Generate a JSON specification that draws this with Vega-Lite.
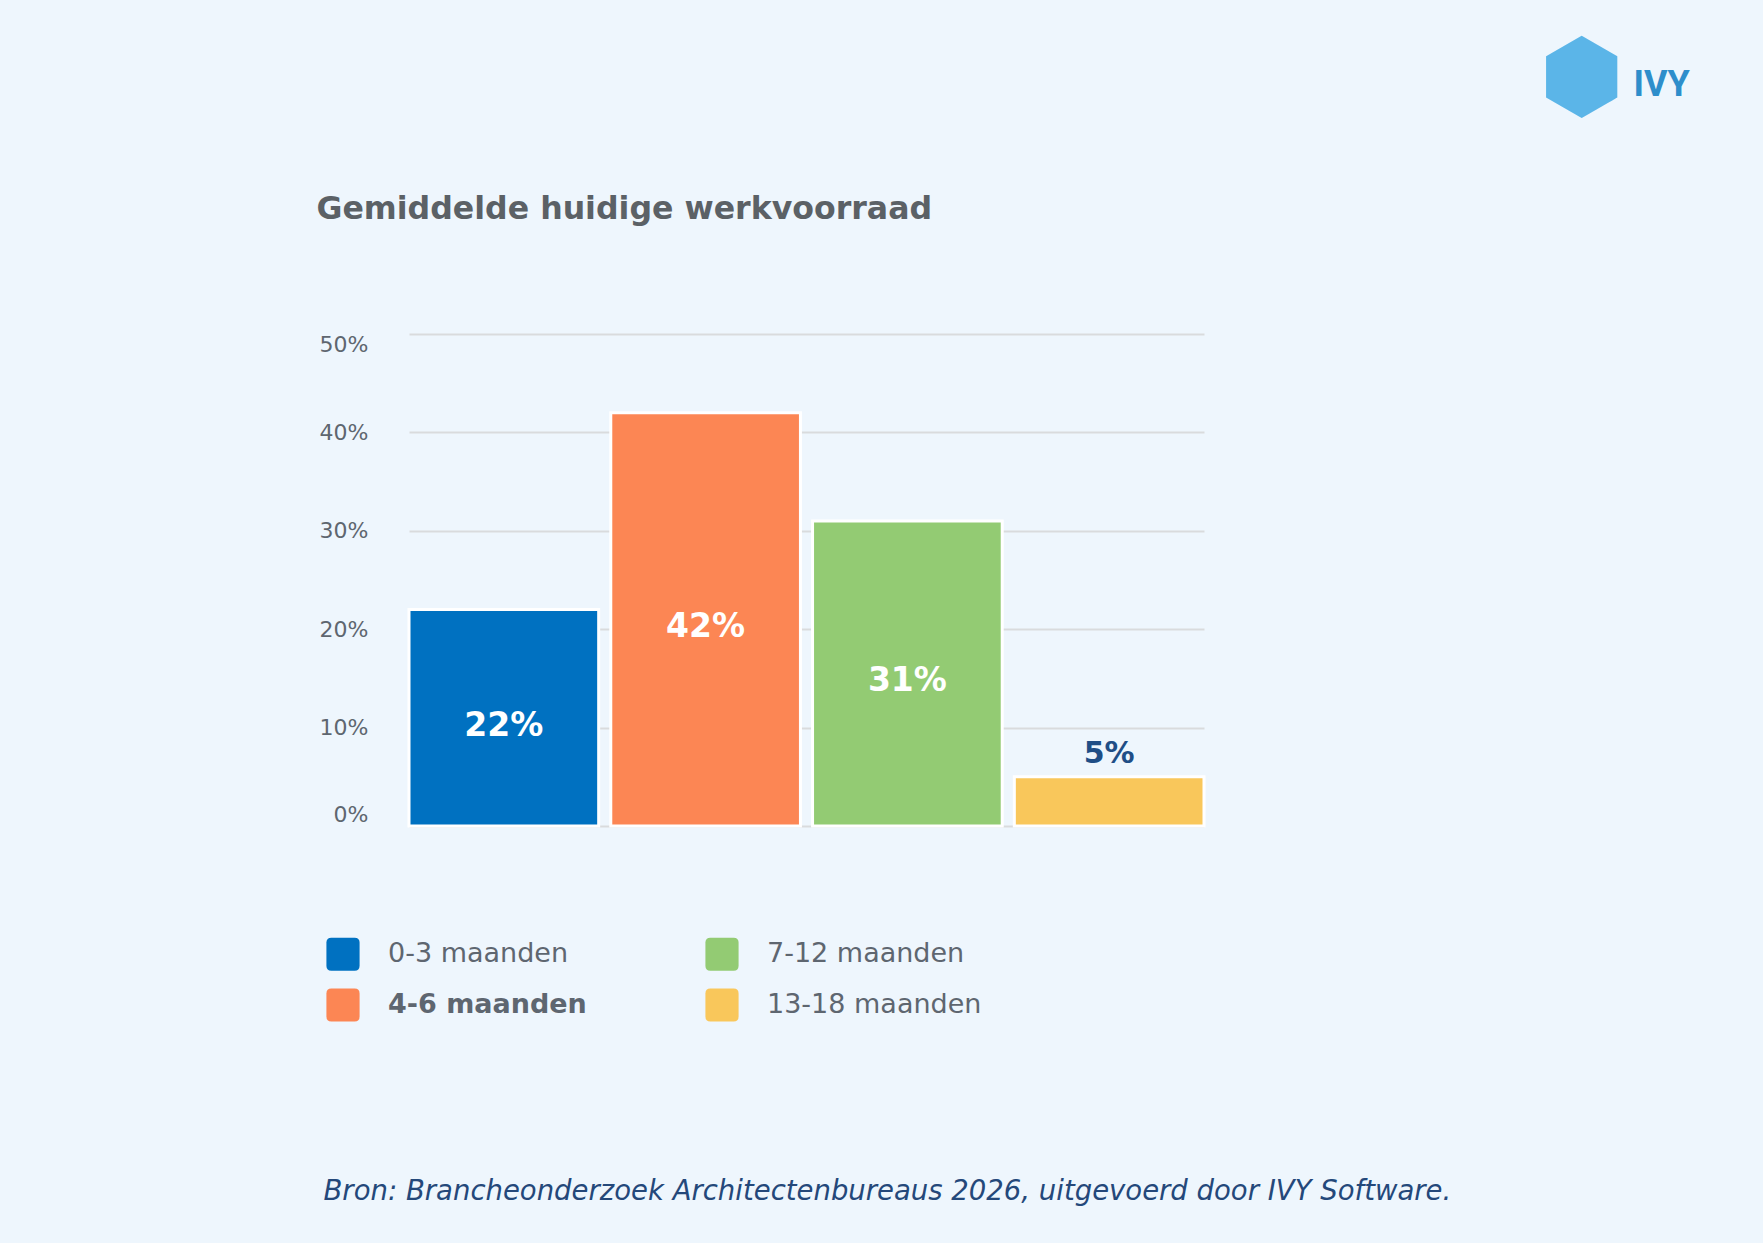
{
  "$schema": "https://vega.github.io/schema/vega-lite/v6.json",
  "description": "Gemiddelde huidige werkvoorraad van architectenbureaus",
  "width": 795,
  "height": 492,
  "autosize": {"type": "none"},
  "padding": {"left": 409, "top": 334, "right": 559, "bottom": 417},
  "background": "#EEF6FD",
  "title": {
    "text": "⬢",
    "anchor": "start",
    "frame": "group",
    "dx": 1130,
    "offset": -64,
    "color": "#5BB5E8",
    "fontSize": 98,
    "font": "DejaVu Sans",
    "fontWeight": "normal"
  },
  "data": {
    "values": [
      {"periode": "0-3 maanden", "aandeel": 0.22},
      {"periode": "4-6 maanden", "aandeel": 0.42},
      {"periode": "7-12 maanden", "aandeel": 0.31},
      {"periode": "13-18 maanden", "aandeel": 0.05}
    ]
  },
  "transform": [{"calculate": "datum.aandeel / 2", "as": "midden"}],
  "encoding": {
    "x": {
      "field": "periode",
      "type": "nominal",
      "sort": ["0-3 maanden", "4-6 maanden", "7-12 maanden", "13-18 maanden"],
      "scale": {"paddingInner": 0.06, "paddingOuter": 0},
      "axis": {
        "labels": false,
        "ticks": false,
        "domain": false,
        "title": "Bron: Brancheonderzoek Architectenbureaus 2026, uitgevoerd door IVY Software.",
        "titleX": -86,
        "titleY": 373,
        "titleAlign": "left",
        "titleBaseline": "alphabetic",
        "titleFont": "DejaVu Sans",
        "titleFontSize": 27.5,
        "titleFontStyle": "italic",
        "titleFontWeight": "normal",
        "titleColor": "#24487A"
      }
    }
  },
  "layer": [
    {
      "layer": [
        {
          "mark": {"type": "bar", "stroke": "white", "strokeWidth": 3},
          "encoding": {
            "y": {
              "field": "aandeel",
              "type": "quantitative",
              "title": "Gemiddelde huidige werkvoorraad",
              "scale": {"domain": [0, 0.5]},
              "axis": {
                "values": [0, 0.1, 0.2, 0.3, 0.4, 0.5],
                "format": ".0%",
                "labelFont": "DejaVu Sans",
                "labelFontSize": 22,
                "labelColor": "#5E6670",
                "labelPadding": 41,
                "labelFlush": true,
                "ticks": false,
                "tickSize": 0,
                "domain": false,
                "gridColor": "#D9DBDD",
                "gridWidth": 2,
                "titleAngle": 0,
                "titleAlign": "left",
                "titleBaseline": "alphabetic",
                "titleX": -93,
                "titleY": -116,
                "titleFont": "DejaVu Sans",
                "titleFontSize": 31.6,
                "titleFontWeight": "bold",
                "titleColor": "#5B6166"
              }
            },
            "color": {
              "field": "periode",
              "type": "nominal",
              "scale": {
                "domain": ["0-3 maanden", "4-6 maanden", "7-12 maanden", "13-18 maanden"],
                "range": ["#0071C1", "#FC8654", "#93CB73", "#F9C75B"]
              },
              "legend": {
                "orient": "none",
                "direction": "vertical",
                "legendX": -83,
                "legendY": 603,
                "columns": 2,
                "title": null,
                "symbolType": "M -0.7 -1 H 0.7 Q 1 -1 1 -0.7 V 0.7 Q 1 1 0.7 1 H -0.7 Q -1 1 -1 0.7 V -0.7 Q -1 -1 -0.7 -1 Z",
                "symbolSize": 1100,
                "symbolStrokeWidth": 0,
                "symbolOpacity": 1,
                "labelFont": "DejaVu Sans",
                "labelFontSize": 27,
                "labelFontWeight": {"expr": "datum.label == '4-6 maanden' ? 'bold' : 'normal'"},
                "labelColor": "#5E6670",
                "labelOffset": 28,
                "labelLimit": 500,
                "rowPadding": 17,
                "columnPadding": 118
              }
            }
          }
        },
        {
          "transform": [{"filter": "datum.aandeel >= 0.1"}],
          "mark": {"type": "text", "color": "white", "font": "DejaVu Sans", "fontSize": 33, "fontWeight": "bold", "baseline": "middle", "dy": 8},
          "encoding": {
            "y": {"field": "midden", "type": "quantitative", "title": "Gemiddelde huidige werkvoorraad", "scale": {"domain": [0, 0.5]}},
            "text": {"field": "aandeel", "type": "quantitative", "format": ".0%"}
          }
        }
      ]
    },
    {
      "transform": [{"filter": "datum.aandeel < 0.1"}],
      "mark": {"type": "text", "color": "#1F4E86", "font": "DejaVu Sans", "fontSize": 30, "fontWeight": "bold", "baseline": "alphabetic", "dy": -14},
      "encoding": {
        "y": {
          "field": "aandeel",
          "type": "quantitative",
          "title": "IVY",
          "scale": {"domain": [0, 0.5]},
          "axis": {
            "orient": "right",
            "labels": false,
            "ticks": false,
            "domain": false,
            "grid": false,
            "titleAngle": 0,
            "titleAlign": "left",
            "titleBaseline": "alphabetic",
            "titleX": 429,
            "titleY": -239,
            "titleFont": "Roboto",
            "titleFontSize": 36,
            "titleFontWeight": "bold",
            "titleColor": "#2E8ECB"
          }
        },
        "text": {"field": "aandeel", "type": "quantitative", "format": ".0%"}
      }
    }
  ],
  "resolve": {"scale": {"y": "independent"}, "axis": {"y": "independent"}},
  "config": {
    "font": "DejaVu Sans",
    "view": {"stroke": null}
  }
}
